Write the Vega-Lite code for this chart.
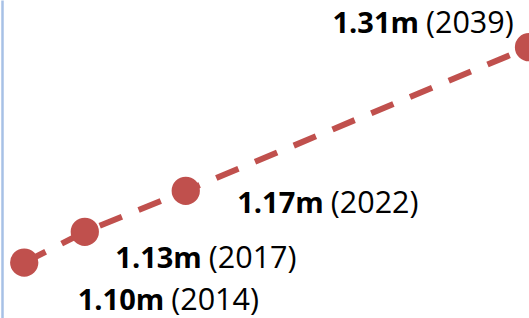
{
  "$schema": "https://vega.github.io/schema/vega-lite/v6.json",
  "width": 529,
  "height": 318,
  "autosize": "none",
  "padding": 0,
  "background": "white",
  "config": {"view": {"stroke": null}, "text": {"font": "Open Sans", "fontSize": 29, "color": "#000000"}},
  "data": {
    "values": [
      {"year": 2014, "value": 1.10, "label": "1.10m", "yearLabel": "(2014)"},
      {"year": 2017, "value": 1.13, "label": "1.13m", "yearLabel": "(2017)"},
      {"year": 2022, "value": 1.17, "label": "1.17m", "yearLabel": "(2022)"},
      {"year": 2039, "value": 1.31, "label": "1.31m", "yearLabel": "(2039)"}
    ]
  },
  "encoding": {
    "x": {"field": "year", "type": "quantitative", "scale": {"domain": [2012.8, 2039], "nice": false, "zero": false}, "axis": null},
    "y": {"field": "value", "type": "quantitative", "scale": {"domain": [1.046, 1.356], "nice": false, "zero": false},
      "axis": {"domainColor": "#a7c1e6", "domainWidth": 2.5, "ticks": false, "labels": false, "grid": false, "title": null, "offset": -2}}
  },
  "layer": [
    {"mark": {"type": "line", "color": "#c0504d", "strokeWidth": 6, "strokeDash": [24, 18], "strokeCap": "butt"}},
    {"mark": {"type": "point", "shape": "circle", "filled": true, "opacity": 1, "color": "#c0504d", "size": 800}},
    {"transform": [{"filter": "datum.year == 2039"}], "layer": [
      {"mark": {"type": "text", "fontWeight": "bold", "align": "right", "baseline": "alphabetic", "dx": -110, "dy": -14}, "encoding": {"text": {"field": "label"}}},
      {"mark": {"type": "text", "fontSize": 30.5, "align": "left", "baseline": "alphabetic", "dx": -103, "dy": -14}, "encoding": {"text": {"field": "yearLabel"}}}
    ]},
    {"transform": [{"filter": "datum.year == 2022"}], "layer": [
      {"mark": {"type": "text", "fontWeight": "bold", "align": "right", "baseline": "alphabetic", "dx": 138, "dy": 22}, "encoding": {"text": {"field": "label"}}},
      {"mark": {"type": "text", "fontSize": 30.5, "align": "left", "baseline": "alphabetic", "dx": 145, "dy": 22}, "encoding": {"text": {"field": "yearLabel"}}}
    ]},
    {"transform": [{"filter": "datum.year == 2017"}], "layer": [
      {"mark": {"type": "text", "fontWeight": "bold", "align": "right", "baseline": "alphabetic", "dx": 117, "dy": 36}, "encoding": {"text": {"field": "label"}}},
      {"mark": {"type": "text", "fontSize": 30.5, "align": "left", "baseline": "alphabetic", "dx": 124, "dy": 36}, "encoding": {"text": {"field": "yearLabel"}}}
    ]},
    {"transform": [{"filter": "datum.year == 2014"}], "layer": [
      {"mark": {"type": "text", "fontWeight": "bold", "align": "right", "baseline": "alphabetic", "dx": 140, "dy": 47}, "encoding": {"text": {"field": "label"}}},
      {"mark": {"type": "text", "fontSize": 30.5, "align": "left", "baseline": "alphabetic", "dx": 147, "dy": 47}, "encoding": {"text": {"field": "yearLabel"}}}
    ]}
  ]
}
